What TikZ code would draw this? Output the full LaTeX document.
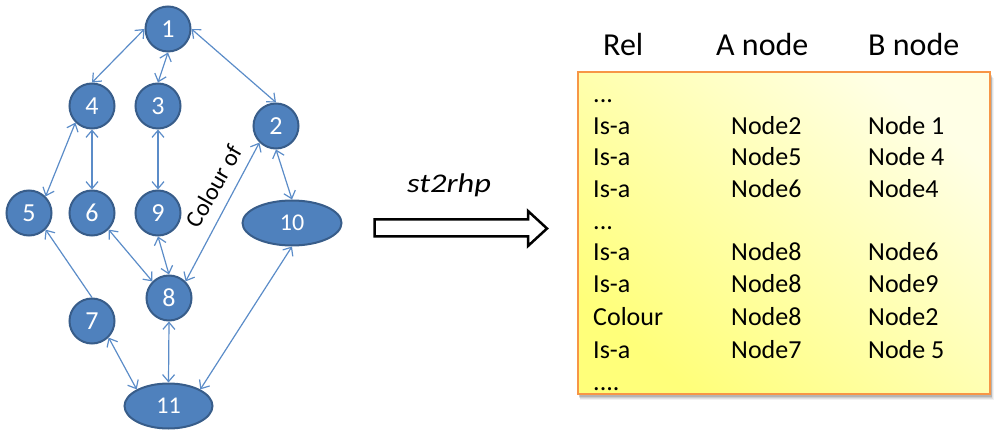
\documentclass[tikz,border=0pt]{standalone}
\usepackage{fontspec}
\setmainfont{Carlito}
\usetikzlibrary{arrows.meta,shapes.geometric}
\definecolor{nodefill}{HTML}{4F81BD}
\definecolor{nodeborder}{HTML}{385D8A}
\definecolor{edgecol}{HTML}{5B8CC8}
\definecolor{boxborder}{HTML}{F79646}
\definecolor{ylight}{HTML}{FFFFE6}
\definecolor{ydark}{HTML}{FFFF7A}
\begin{document}
\begin{tikzpicture}[x=1pt,y=-1pt,
  circ/.style={circle, fill=nodefill, draw=nodeborder, line width=2pt, minimum size=45pt, inner sep=0pt, text=white, font=\fontsize{26}{26}\selectfont},
  ell/.style={ellipse, fill=nodefill, draw=nodeborder, line width=2pt, minimum height=45pt, inner sep=0pt, text=white, font=\fontsize{24}{24}\selectfont},
  link/.style={draw=edgecol, line width=1.2pt, {Straight Barb[length=7pt,width=12pt]}-{Straight Barb[length=7pt,width=12pt]}},
  linkone/.style={draw=edgecol, line width=1.2pt, -{Straight Barb[length=7pt,width=12pt]}},
  cell/.style={anchor=base west, inner sep=0pt, font=\fontsize{26}{26}\selectfont},
  head/.style={anchor=base west, inner sep=0pt, font=\fontsize{32}{32}\selectfont},
]
\useasboundingbox (0,0) rectangle (1000,435);

% graph nodes
\node[circ] (n1) at (168,29) {1};
\node[circ] (n4) at (92,106) {4};
\node[circ] (n3) at (158,106) {3};
\node[circ] (n2) at (276,126) {2};
\node[circ] (n5) at (29,213) {5};
\node[circ] (n6) at (92,213) {6};
\node[circ] (n9) at (158,213) {9};
\node[ell, minimum width=99pt] (n10) at (292,223) {10};
\node[circ] (n8) at (169,298) {8};
\node[circ] (n7) at (92,321) {7};
\node[ell, minimum width=88pt] (n11) at (168.5,406) {11};

% connectors
\draw[link] (n1.west) -- (n4.north);
\draw[link] (n1.south) -- (n3.north);
\draw[link] (n1.east) -- (n2.north);
\draw[link] (n4.south west) -- (n5.north east);
\draw[link] (n4.south) -- (n6.north);
\draw[link] (n3.south) -- (n9.north);
\draw[link] (n2.south) -- (n10.north);
\draw[link] (n2.south west) -- (n8.north east);
\draw[link] (n6.south east) -- (n8.north west);
\draw[link] (n9.south) -- (n8.north);
\draw[linkone] (n7.north) -- (n5.south east);
\draw[link] (n7.south east) -- (n11.north west);
\draw[link] (n8.south) -- (n11.north);
\draw[link] (n10.south) -- (n11.north east);
\node[rotate=60, inner sep=0pt, font=\fontsize{24}{24}\selectfont] (colof) at (214,186) {Colour of};

% block arrow
\coordinate (ba) at (374.5,219.5);
\draw[line width=2.5pt, fill=white, line join=miter]
  (374.5,219.5) -- (528,219.5) -- (528,211) -- (547,228.5) -- (528,246) -- (528,236.5) -- (374.5,236.5) -- cycle;
\node[inner sep=0pt, anchor=base, font=\fontsize{27}{27}\selectfont\itshape, xscale=1.2] (lbl) at (449,193) {st2rhp};

% table headers
\node[head] (h1) at (603,56) {Rel};
\node[head] (h2) at (716,56) {A node};
\node[head] (h3) at (868,56) {B node};

% table box with shadow
\foreach \o/\op in {6/0.05,5/0.07,4/0.09,3/0.12} {
  \fill[black, opacity=\op] (578+\o*0.3,72+\o) rectangle (990+\o*0.6,394+\o);
}
\shade[shading=axis, top color=ylight, bottom color=ydark, shading angle=-40] (578,72) rectangle (990,394);
\draw[boxborder, line width=1.5pt] (578,72) rectangle (990,394);

% table rows
\node[cell] (d1) at (593,103) {...};
\node[cell] (r1a) at (593,135) {Is-a};   \node[cell] (r1b) at (731,135) {Node2}; \node[cell] (r1c) at (868,135) {Node 1};
\node[cell] (r2a) at (593,166) {Is-a};   \node[cell] (r2b) at (731,166) {Node5}; \node[cell] (r2c) at (868,166) {Node 4};
\node[cell] (r3a) at (593,198) {Is-a};   \node[cell] (r3b) at (731,198) {Node6}; \node[cell] (r3c) at (868,198) {Node4};
\node[cell] (d2) at (593,230) {...};
\node[cell] (r5a) at (593,261) {Is-a};   \node[cell] (r5b) at (731,261) {Node8}; \node[cell] (r5c) at (868,261) {Node6};
\node[cell] (r6a) at (593,293) {Is-a};   \node[cell] (r6b) at (731,293) {Node8}; \node[cell] (r6c) at (868,293) {Node9};
\node[cell] (r7a) at (593,325) {Colour}; \node[cell] (r7b) at (731,325) {Node8}; \node[cell] (r7c) at (868,325) {Node2};
\node[cell] (r8a) at (593,358) {Is-a};   \node[cell] (r8b) at (731,358) {Node7}; \node[cell] (r8c) at (868,358) {Node 5};
\node[cell] (d3) at (593,390) {....};
\end{tikzpicture}
\end{document}
